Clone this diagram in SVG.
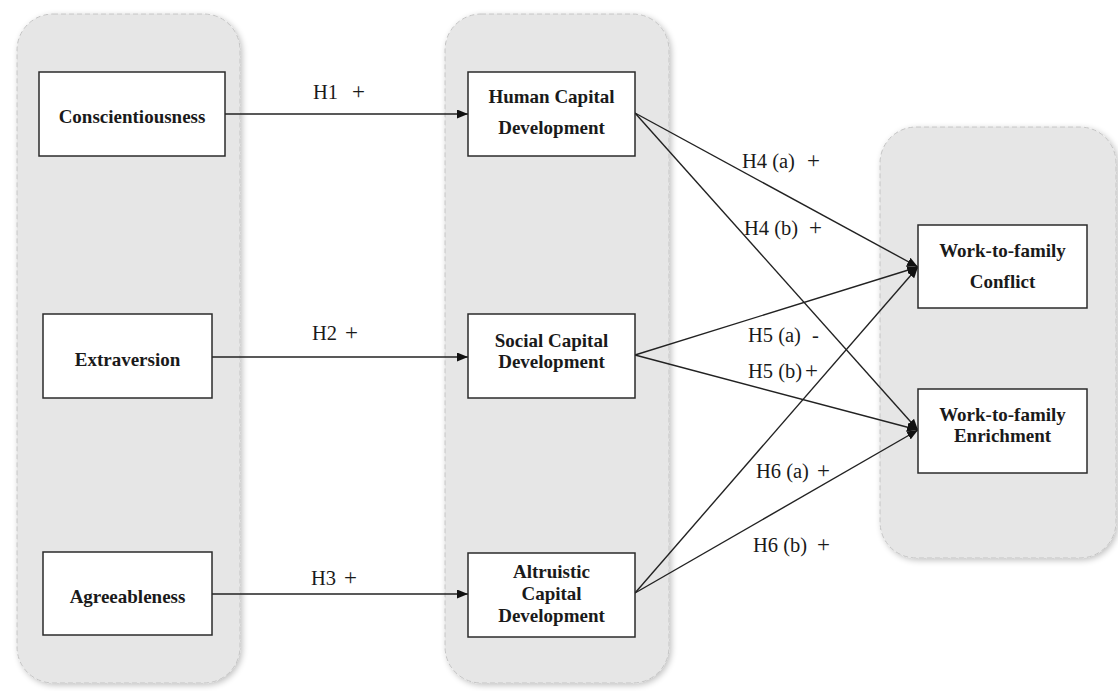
<svg xmlns="http://www.w3.org/2000/svg" width="1118" height="691" viewBox="0 0 1118 691">
  <style>
    .panel { fill: #e6e6e6; stroke: #c4c4c4; stroke-width: 1; stroke-dasharray: 5 3; }
    .box { fill: #ffffff; stroke: #2b2b2b; stroke-width: 1.5; }
    .node-text { font-family: "Liberation Serif", "Times New Roman", serif; font-size: 19px; font-weight: bold; fill: #1a1a1a; text-anchor: middle; }
    .label { font-family: "Liberation Serif", "Times New Roman", serif; font-size: 20.5px; fill: #1a1a1a; }
    .sign { font-size: 23px; }
    .link { fill: none; stroke: #222222; stroke-width: 1.4; }
  </style>
  <defs>
    <filter id="softShadow" x="-10%" y="-10%" width="120%" height="120%">
      <feGaussianBlur in="SourceAlpha" stdDeviation="3"/>
      <feOffset dx="2" dy="2" result="blur"/>
      <feComponentTransfer><feFuncA type="linear" slope="0.25"/></feComponentTransfer>
      <feMerge><feMergeNode/><feMergeNode in="SourceGraphic"/></feMerge>
    </filter>
    <marker id="arrow" markerWidth="11" markerHeight="9" refX="11" refY="4.5" orient="auto" markerUnits="userSpaceOnUse">
      <path d="M0,0 L11,4.5 L0,9 z" fill="#111111"/>
    </marker>
  </defs>

  <rect width="1118" height="691" fill="#ffffff"/>

  <!-- grouping panels -->
  <g id="panels" filter="url(#softShadow)">
    <rect class="panel" x="17" y="14" width="223" height="669" rx="36" ry="36"/>
    <rect class="panel" x="445" y="14" width="224" height="669" rx="36" ry="36"/>
    <rect class="panel" x="880" y="127" width="236" height="431" rx="36" ry="36"/>
  </g>

  <!-- connectors -->
  <g id="connectors">
    <line class="link" x1="225" y1="114" x2="468" y2="114" marker-end="url(#arrow)"/>
    <line class="link" x1="212" y1="357" x2="468" y2="357" marker-end="url(#arrow)"/>
    <line class="link" x1="212" y1="594" x2="468" y2="594" marker-end="url(#arrow)"/>

    <line class="link" x1="635" y1="113" x2="918" y2="267" marker-end="url(#arrow)"/>
    <line class="link" x1="635" y1="113" x2="918" y2="430" marker-end="url(#arrow)"/>
    <line class="link" x1="635" y1="355" x2="918" y2="267" marker-end="url(#arrow)"/>
    <line class="link" x1="635" y1="355" x2="918" y2="430" marker-end="url(#arrow)"/>
    <line class="link" x1="635" y1="593" x2="918" y2="267" marker-end="url(#arrow)"/>
    <line class="link" x1="635" y1="593" x2="918" y2="430" marker-end="url(#arrow)"/>
  </g>

  <!-- hypothesis labels -->
  <g id="labels">
    <text class="label" x="313" y="99">H1<tspan class="sign" x="352">+</tspan></text>
    <text class="label" x="312" y="340">H2<tspan class="sign" x="345">+</tspan></text>
    <text class="label" x="311" y="585">H3<tspan class="sign" x="344">+</tspan></text>
    <text class="label" x="742" y="168">H4 (a)<tspan class="sign" x="807">+</tspan></text>
    <text class="label" x="744" y="235">H4 (b)<tspan class="sign" x="809">+</tspan></text>
    <text class="label" x="748" y="342">H5 (a)<tspan x="812">-</tspan></text>
    <text class="label" x="748" y="378">H5 (b)<tspan class="sign" x="805">+</tspan></text>
    <text class="label" x="756" y="478">H6 (a)<tspan class="sign" x="817">+</tspan></text>
    <text class="label" x="753" y="552">H6 (b)<tspan class="sign" x="817">+</tspan></text>
  </g>

  <!-- personality traits -->
  <g id="conscientiousness">
    <rect class="box" x="39" y="72" width="186" height="84"/>
    <text class="node-text" x="132" y="123">Conscientiousness</text>
  </g>
  <g id="extraversion">
    <rect class="box" x="43" y="314" width="169" height="84"/>
    <text class="node-text" x="127.5" y="366">Extraversion</text>
  </g>
  <g id="agreeableness">
    <rect class="box" x="43" y="552" width="169" height="83"/>
    <text class="node-text" x="127.5" y="603">Agreeableness</text>
  </g>

  <!-- capital development -->
  <g id="human-capital">
    <rect class="box" x="468" y="72" width="167" height="84"/>
    <text class="node-text" x="551.5" y="103">Human Capital</text>
    <text class="node-text" x="551.5" y="134">Development</text>
  </g>
  <g id="social-capital">
    <rect class="box" x="468" y="314" width="167" height="84"/>
    <text class="node-text" x="551.5" y="347">Social Capital</text>
    <text class="node-text" x="551.5" y="368">Development</text>
  </g>
  <g id="altruistic-capital">
    <rect class="box" x="468" y="553" width="167" height="84"/>
    <text class="node-text" x="551.5" y="578">Altruistic</text>
    <text class="node-text" x="551.5" y="600">Capital</text>
    <text class="node-text" x="551.5" y="622">Development</text>
  </g>

  <!-- outcomes -->
  <g id="wf-conflict">
    <rect class="box" x="918" y="225" width="169" height="83"/>
    <text class="node-text" x="1002.5" y="257">Work-to-family</text>
    <text class="node-text" x="1002.5" y="288">Conflict</text>
  </g>
  <g id="wf-enrichment">
    <rect class="box" x="918" y="389" width="169" height="84"/>
    <text class="node-text" x="1002.5" y="421">Work-to-family</text>
    <text class="node-text" x="1002.5" y="442">Enrichment</text>
  </g>
</svg>
